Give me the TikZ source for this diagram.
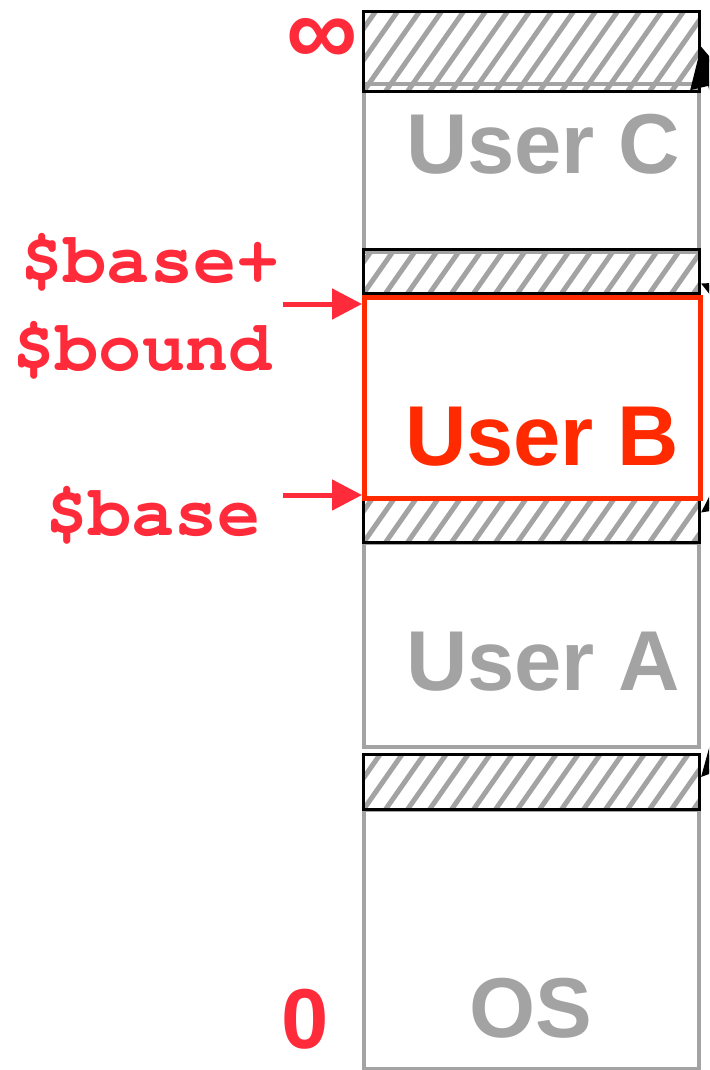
\documentclass[tikz,border=0pt]{standalone}
\usepackage{fontspec}
\setmainfont{Liberation Sans}
\usetikzlibrary{arrows.meta}
\definecolor{memgray}{HTML}{A3A3A3}
\definecolor{labred}{HTML}{FF2B3A}
\definecolor{boxred}{HTML}{FF2A00}
\newcommand{\courierbold}{\fontencoding{OT1}\fontfamily{pcr}\fontseries{b}\fontshape{n}}
\begin{document}
\begin{tikzpicture}[x=1pt,y=-1pt,
  region/.style={draw=memgray, line width=4pt, anchor=north west, inner sep=0pt, minimum width=335pt},
  hatchbox/.style={draw=black, line width=3pt, anchor=north west, inner sep=0pt, minimum width=336pt,
    path picture={
      \foreach \k in {-5,...,17}
        \draw[memgray, line width=5pt]
          ([xshift=\k*22pt]path picture bounding box.south west) -- ++(70pt,100pt);
    }},
  redbox/.style={draw=boxred, line width=4.5pt, anchor=north west, inner sep=0pt, minimum width=336pt},
  usertext/.style={font=\bfseries\fontsize{85}{85}\selectfont, text=memgray, anchor=base, inner sep=0pt},
  codelab/.style={font=\courierbold\fontsize{72}{72}\selectfont, text=labred, anchor=base, inner sep=0pt},
  redarrow/.style={draw=labred, line width=5pt, -{Triangle[length=30pt,width=30pt]}},
  blackarrow/.style={draw=black, line width=4pt, -{Triangle[length=40pt,width=40pt]}}
]
\clip (0,0) rectangle (709,1070);

% plain regions
\node[region, minimum height=168pt] (userc) at (362,82) {};
\node[region, minimum height=204pt] (usera) at (362,541) {};
\node[region, minimum height=259pt] (os) at (362,808) {};

% hatched gaps
\node[hatchbox, minimum height=80pt] (h1) at (362,10) {};
\node[hatchbox, minimum height=44pt] (h2) at (362,248) {};
\node[hatchbox, minimum height=44pt] (h3) at (362,497) {};
\node[hatchbox, minimum height=55pt] (h4) at (362,753) {};

% User B region
\node[redbox, minimum height=201pt] (userb) at (362,295) {};

% region texts
\node[usertext] (tc) at (543,173) {User C};
\node[usertext, text=boxred] (tb) at (542,465) {User B};
\node[usertext] (ta) at (543,690) {User A};
\node[usertext] (tos) at (531,1037) {OS};

% address labels
\node[font=\bfseries\fontsize{100}{100}\selectfont, text=labred, anchor=base, inner sep=0pt,
      text height=52pt, text depth=0pt] (inf) at (322,66) {∞};
\node[font=\bfseries\fontsize{85}{85}\selectfont, text=labred, anchor=base, inner sep=0pt] (zero) at (305,1048) {0};
\node[codelab] (lbp) at (150,282) {\$base+};
\node[codelab] (lbd) at (142,370) {\$bound};
\node[codelab] (lb) at (153,535) {\$base};

\coordinate (ta1) at (283,304);
\coordinate (ta2) at (283,495);
\draw[redarrow] (ta1) -- (ta1 -| userb.west);
\draw[redarrow] (ta2) -- (ta2 -| userb.west);

% arrows entering from the right (cut off)
\coordinate (e1) at (730,170);
\coordinate (e2) at (760,310);
\coordinate (e3) at (760,470);
\coordinate (e4) at (760,713);
\draw[blackarrow] (e1) -- ([yshift=5pt]h1.east);
\draw[blackarrow] (e2) -- ([yshift=-12pt]h2.east);
\draw[blackarrow] (e3) -- ([yshift=8pt]h3.east);
\draw[blackarrow] (e4) -- ([yshift=5pt]h4.east);
\end{tikzpicture}
\end{document}
